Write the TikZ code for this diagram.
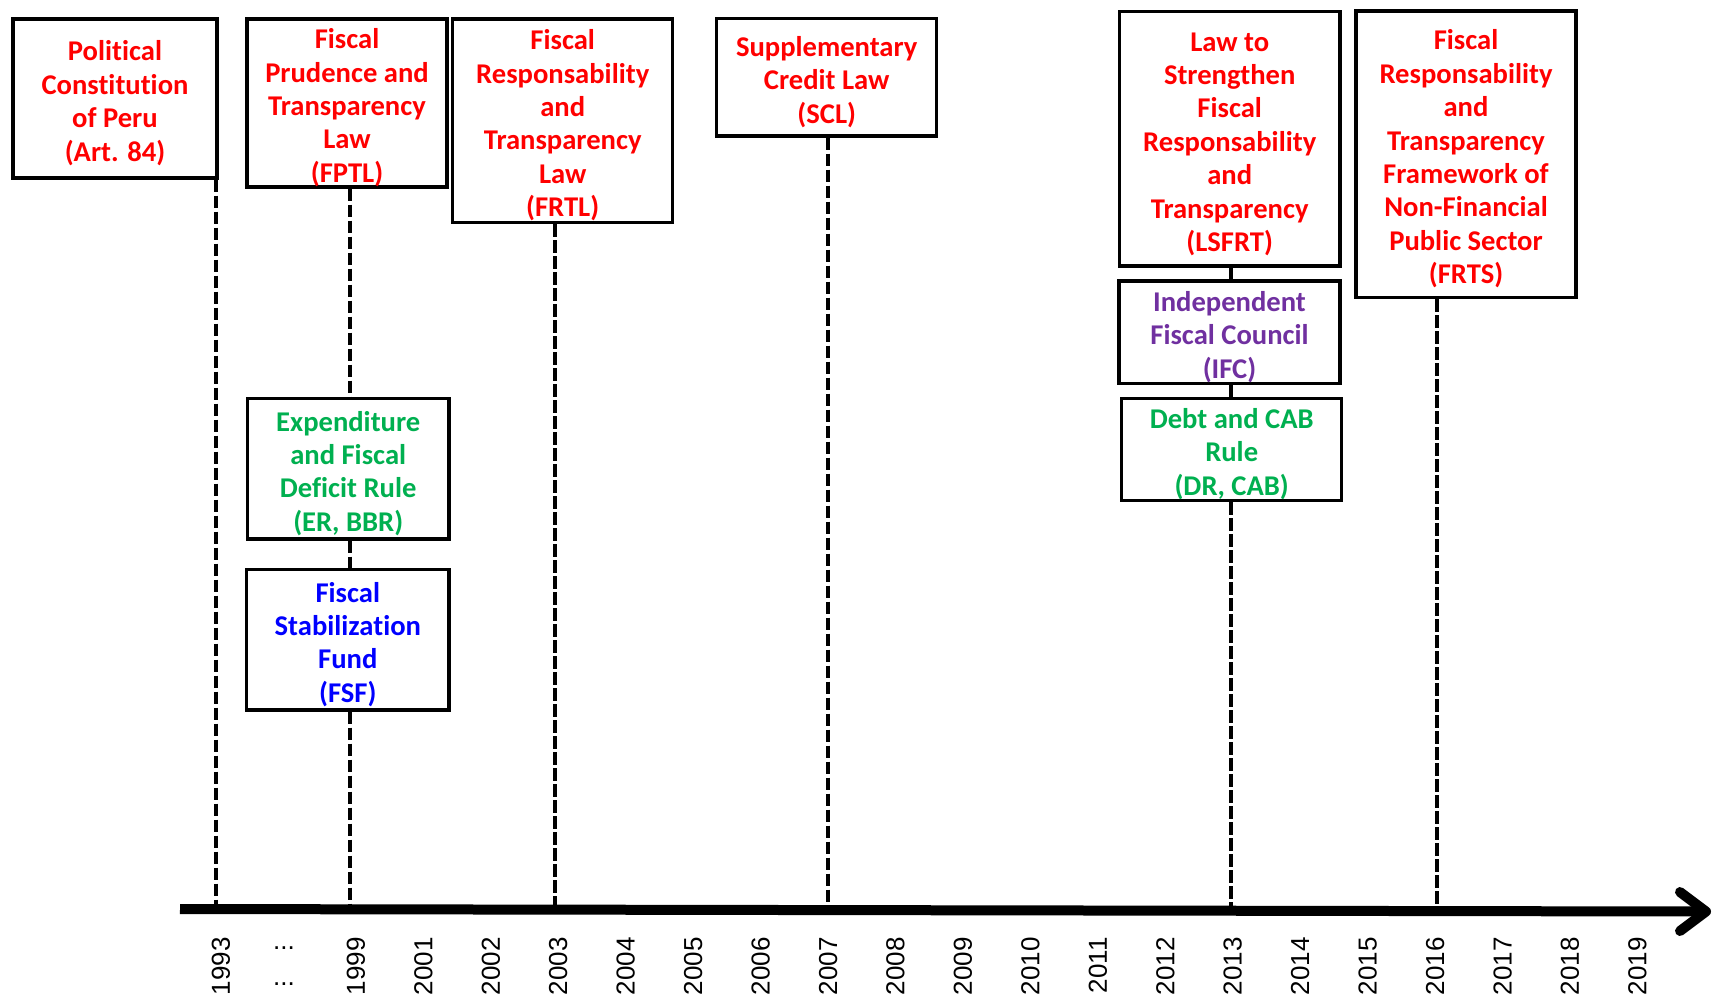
\documentclass[tikz,border=0pt]{standalone}
\usepackage{fontspec}
\setmainfont{Carlito}[Ligatures=NoCommon]
\newfontfamily\yearfont{Liberation Sans}
\definecolor{xred}{HTML}{FF0000}
\definecolor{xgreen}{HTML}{00B050}
\definecolor{xblue}{HTML}{0000FF}
\definecolor{xpurple}{HTML}{7030A0}
\newcommand\mytopstrut{\rule{0pt}{14.6pt}}
\begin{document}
\begin{tikzpicture}[x=0.5pt,y=-0.5pt,
  box/.style={draw=black, fill=white, line width=1.6pt, inner sep=0pt, align=center,
    font=\fontsize{14.3}{16.7}\selectfont\bfseries},
  link/.style={line width=2pt, dash pattern=on 6.2pt off 1.8pt},
  yearlab/.style={rotate=90, anchor=east, inner sep=0pt, font=\yearfont\fontsize{13}{15}\selectfont},
  dotlab/.style={inner sep=0pt, font=\yearfont\fontsize{13}{15}\selectfont},
  axisline/.style={line width=5pt}]
\fill[white] (0,0) rectangle (1714,993);
\useasboundingbox (0,0) rectangle (1714,993);

% boxes
\node[box, minimum width=102pt, minimum height=79.5pt, text=xred] (pol) at (115,98.5)
  {\mytopstrut Political\\Constitution\\of Peru\\(Art. 84)};
\node[box, minimum width=100pt, minimum height=84pt, text=xred] (fptl) at (347,103)
  {\mytopstrut Fiscal\\Prudence and\\Transparency\\Law\\(FPTL)};
\node[box, minimum width=110pt, minimum height=101.8pt, text=xred] (frtl) at (562.7,120.8)
  {\mytopstrut Fiscal\\Responsability\\and\\Transparency\\Law\\(FRTL)};
\node[box, minimum width=110pt, minimum height=58.8pt, text=xred] (scl) at (826.7,77.2)
  {\mytopstrut Supplementary\\Credit Law\\(SCL)};
\node[box, minimum width=110.3pt, minimum height=127.2pt, text=xred] (lsfrt) at (1229.7,138.8)
  {\mytopstrut Law to\\Strengthen\\Fiscal\\Responsability\\and\\Transparency\\(LSFRT)};
\node[box, minimum width=110pt, minimum height=143.3pt, text=xred] (frts) at (1466,154.3)
  {\mytopstrut Fiscal\\Responsability\\and\\Transparency\\Framework of\\Non-Financial\\Public Sector\\(FRTS)};
\node[box, minimum width=110.5pt, minimum height=51.2pt, text=xpurple] (ifc) at (1229.5,332.2)
  {\mytopstrut Independent\\Fiscal Council\\(IFC)};
\node[box, minimum width=110pt, minimum height=51.2pt, text=xgreen] (dr) at (1231.7,449.5)
  {\mytopstrut Debt and CAB\\Rule\\(DR, CAB)};
\node[box, minimum width=100.8pt, minimum height=70.3pt, text=xgreen] (er) at (348.2,468.7)
  {\mytopstrut Expenditure\\and Fiscal\\Deficit Rule\\(ER, BBR)};
\node[box, minimum width=101.1pt, minimum height=70.3pt, text=xblue] (fsf) at (347.8,639.7)
  {\mytopstrut Fiscal\\Stabilization\\Fund\\(FSF)};

% axis points
\coordinate (axL) at (180,909);
\coordinate (axR) at (1706,911.5);
\coordinate (armT) at (1680,892);
\coordinate (armB) at (1680,931);
\coordinate (a1993) at (216,909);
\coordinate (a1999) at (350,909);
\coordinate (a2003) at (555,909.5);
\coordinate (a2007) at (828.3,910);
\coordinate (a2013) at (1230.7,910.5);
\coordinate (a2016) at (1437.3,911);

% connectors
\draw[link] (pol.south -| a1993) -- (a1993);
\draw[link] (fptl.south -| a1999) -- (er.north -| a1999);
\draw[link] (er.south -| a1999) -- (fsf.north -| a1999);
\draw[link] (fsf.south -| a1999) -- (a1999);
\draw[link] (frtl.south -| a2003) -- (a2003);
\draw[link] (scl.south -| a2007) -- (a2007);
\draw[link] (lsfrt.south -| a2013) -- (ifc.north -| a2013);
\draw[link] (ifc.south -| a2013) -- (dr.north -| a2013);
\draw[link] (dr.south -| a2013) -- (a2013);
\draw[link] (frts.south -| a2016) -- (a2016);

% axis
\draw[axisline] (axL) -- (axR);
\draw[axisline, line cap=round, line join=round] (armT) -- (axR) -- (armB);

% year labels
\node[yearlab] (l1993) at (221,937) {1993};
\node[dotlab] (d1) at (284,948) {...};
\node[dotlab] (d2) at (284,984) {...};
\node[yearlab] (l1999) at (355.9,937) {1999};
\foreach \yr [count=\i from 3] in {2001,2002,...,2019}
  \node[yearlab] (l\yr) at ({221+67.45*\i},937) {\yr};
\end{tikzpicture}
\end{document}
